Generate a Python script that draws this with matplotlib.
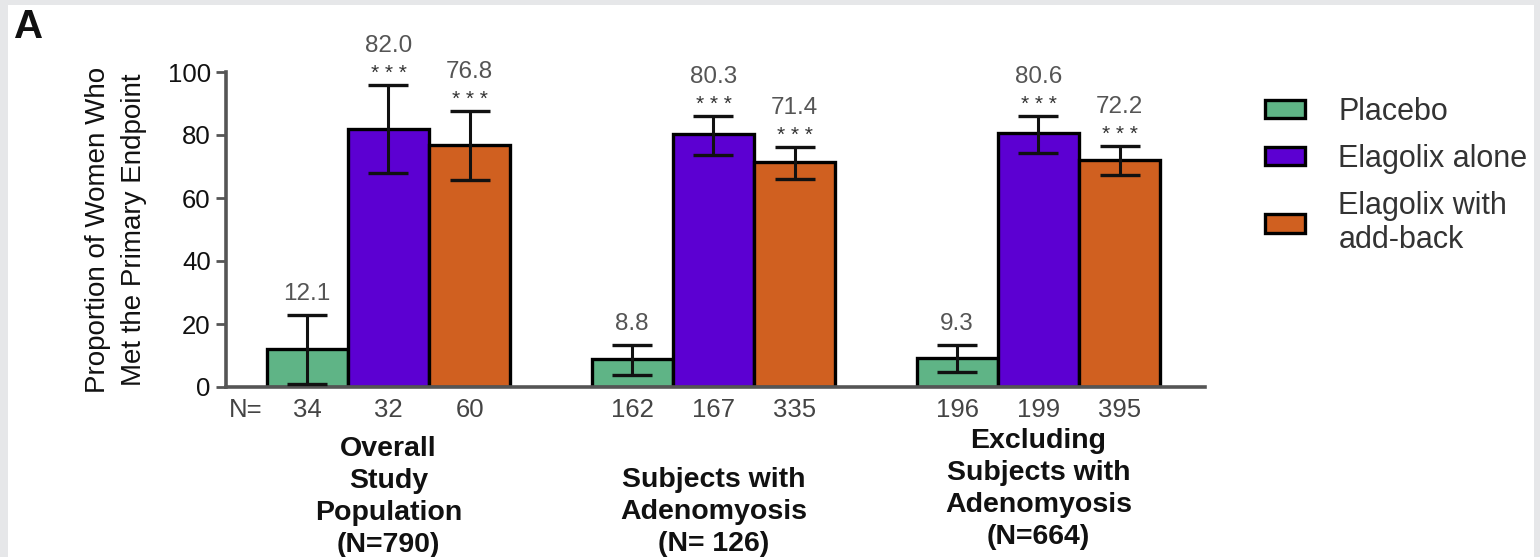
import numpy as np
import matplotlib.pyplot as plt
from matplotlib.patches import Patch, Rectangle

plt.rcParams['font.family'] = ['Liberation Sans', 'DejaVu Sans']

# ---- data ----
treatments = ['Placebo', 'Elagolix alone', 'Elagolix with\nadd-back']
colors = ['#5fb486', '#5c00d2', '#d06020']
group_labels = ['Overall\nStudy\nPopulation\n(N=790)',
                'Subjects with\nAdenomyosis\n(N= 126)',
                'Excluding\nSubjects with\nAdenomyosis\n(N=664)']

# rows = groups, cols = treatments
values = np.array([[12.1, 82.0, 76.8],
                   [8.8, 80.3, 71.4],
                   [9.3, 80.6, 72.2]])
ci_low = np.array([[0.8, 67.9, 65.7],
                   [3.8, 73.8, 66.0],
                   [4.8, 74.3, 67.3]])
ci_high = np.array([[22.9, 95.9, 87.6],
                    [13.3, 86.0, 76.3],
                    [13.3, 86.0, 76.6]])
n_subjects = np.array([[34, 32, 60],
                       [162, 167, 335],
                       [196, 199, 395]])
stars = [['', '***', '***'],
         ['', '***', '***'],
         ['', '***', '***']]

# ---- figure ----
fig = plt.figure(figsize=(15.4, 5.57), dpi=100, facecolor='#e6e7e9')
fig.patches.append(Rectangle((8 / 1540, 0), 1526 / 1540, 1 - 5 / 557,
                             transform=fig.transFigure, facecolor='white',
                             edgecolor='none', zorder=-10))
ax = fig.add_axes([226 / 1540, 1 - 387 / 557, (1205 - 226) / 1540, (387 - 72) / 557])
ax.set_facecolor('none')

axis_col = '#555555'
for g in range(3):
    for t in range(3):
        x = g * 4 + t
        ax.bar(x, values[g, t], width=1.0, color=colors[t], edgecolor='black',
               linewidth=2.4, zorder=2)
        ax.errorbar(x, values[g, t],
                    yerr=[[values[g, t] - ci_low[g, t]], [ci_high[g, t] - values[g, t]]],
                    fmt='none', ecolor='#111111', elinewidth=2.2, capsize=14.5,
                    capthick=2.4, zorder=3, clip_on=False)
        if stars[g][t]:
            ax.annotate(f'{values[g, t]:.1f}', (x, ci_high[g, t]), xytext=(0, 28),
                        textcoords='offset points', ha='center', va='center',
                        fontsize=17.5, color='#555555', annotation_clip=False)
            ax.annotate(' '.join(stars[g][t]), (x, ci_high[g, t]), xytext=(0, 8),
                        textcoords='offset points', ha='center', va='center',
                        fontsize=15, color='#333333', annotation_clip=False)
        else:
            ax.annotate(f'{values[g, t]:.1f}', (x, ci_high[g, t]), xytext=(0, 15),
                        textcoords='offset points', ha='center', va='center',
                        fontsize=17.5, color='#555555', annotation_clip=False)
        ax.text(x, -0.073, str(n_subjects[g, t]), transform=ax.get_xaxis_transform(),
                ha='center', va='center', fontsize=18.5, color='#444444')

ax.text(-0.76, -0.073, 'N=', transform=ax.get_xaxis_transform(),
        ha='center', va='center', fontsize=18.5, color='#444444')

label_y = [-0.35, -0.398, -0.325]
for g in range(3):
    ax.text(g * 4 + 1, label_y[g], group_labels[g], transform=ax.get_xaxis_transform(),
            ha='center', va='center', fontsize=20.5, fontweight='bold',
            color='#111111', linespacing=1.3)

ax.set_xlim(-1.0, 11.05)
ax.set_ylim(0, 100)
ax.set_xticks([])
ax.set_yticks([0, 20, 40, 60, 80, 100])
ax.tick_params(axis='y', length=7, width=2, color=axis_col, labelsize=18.5,
               labelcolor='#111111', pad=4)
for side in ['top', 'right']:
    ax.spines[side].set_visible(False)
for side in ['left', 'bottom']:
    ax.spines[side].set_linewidth(2.6)
    ax.spines[side].set_color(axis_col)

ax.set_ylabel('Proportion of Women Who\nMet the Primary Endpoint', fontsize=20,
              color='#111111', labelpad=15, linespacing=1.5)

fig.text(14 / 1540, 1 - 38 / 557, 'A', fontsize=29, fontweight='bold', color='#111111')

handles = [Patch(facecolor=c, edgecolor='black', linewidth=2.4) for c in colors]
fig.legend(handles, treatments, loc='upper left', bbox_to_anchor=(1265 / 1540, 1 - 97 / 557),
           frameon=False, fontsize=22, handlelength=1.3, handleheight=0.55,
           handletextpad=1.1, labelspacing=0.55, borderpad=0, borderaxespad=0,
           labelcolor='#333333')

fig.savefig('out.png', dpi=100, facecolor=fig.get_facecolor())
